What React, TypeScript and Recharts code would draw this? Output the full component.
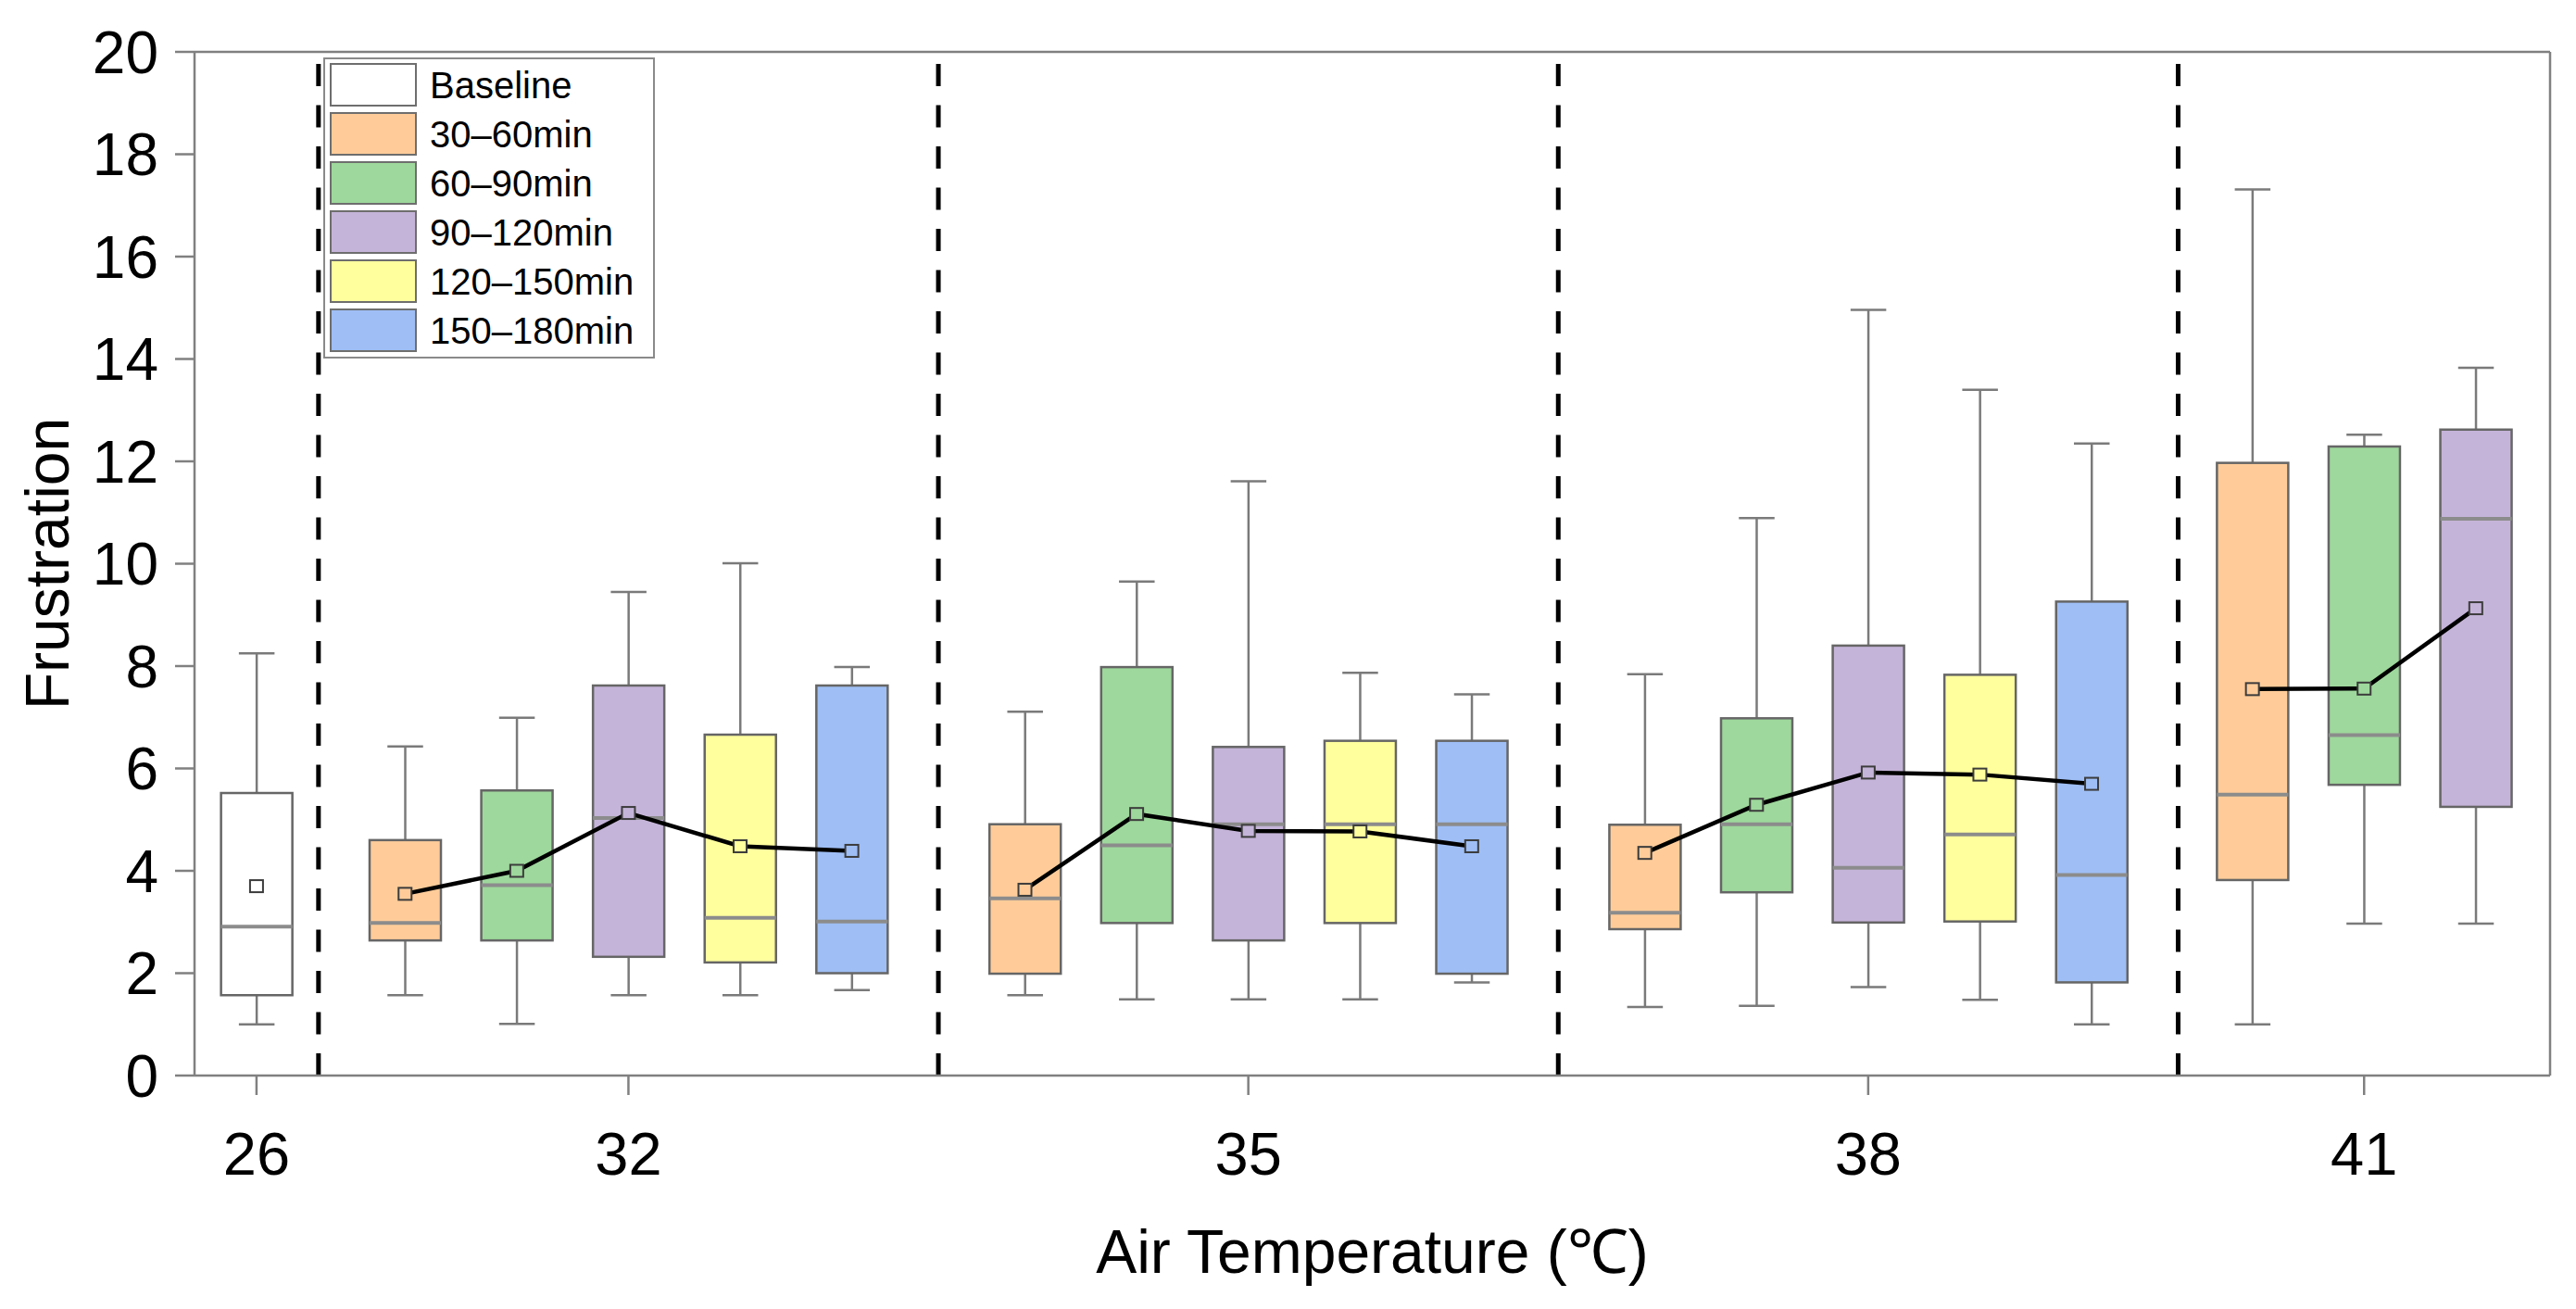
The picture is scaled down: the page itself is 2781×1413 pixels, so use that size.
import React from "react";
import {
  ComposedChart,
  Bar,
  Scatter,
  XAxis,
  YAxis,
  ReferenceLine,
  Legend,
  Label,
} from "recharts";

const temperatures = ["26", "32", "35", "38", "41"];
const seriesNames = ["Baseline", "30–60min", "60–90min", "90–120min", "120–150min", "150–180min"];
const yTicks = [0, 2, 4, 6, 8, 10, 12, 14, 16, 18, 20];

// [lower whisker, Q1, median, Q3, upper whisker, mean] per temperature; null = not measured
const baseline = [[1.0, 1.57, 2.91, 5.52, 8.25, 3.7], null, null, null, null];
const min30to60 = [
  null,
  [1.57, 2.64, 2.98, 4.6, 6.43, 3.55],
  [1.57, 1.99, 3.46, 4.91, 7.11, 3.63],
  [1.34, 2.86, 3.18, 4.9, 7.84, 4.35],
  [1.0, 3.82, 5.49, 11.97, 17.31, 7.55],
];
const min60to90 = [
  null,
  [1.01, 2.64, 3.72, 5.57, 6.99, 4.0],
  [1.49, 2.98, 4.5, 7.98, 9.65, 5.11],
  [1.36, 3.58, 4.91, 6.98, 10.89, 5.29],
  [2.97, 5.68, 6.65, 12.29, 12.52, 7.56],
];
const min90to120 = [
  null,
  [1.57, 2.32, 5.03, 7.62, 9.45, 5.13],
  [1.49, 2.64, 4.91, 6.42, 11.61, 4.78],
  [1.73, 2.99, 4.06, 8.4, 14.96, 5.92],
  [2.97, 5.25, 10.88, 12.62, 13.83, 9.13],
];
const min120to150 = [
  null,
  [1.57, 2.21, 3.08, 6.66, 10.01, 4.48],
  [1.49, 2.98, 4.91, 6.54, 7.87, 4.77],
  [1.48, 3.01, 4.71, 7.83, 13.4, 5.88],
  null,
];
const min150to180 = [
  null,
  [1.67, 2.0, 3.01, 7.62, 7.98, 4.39],
  [1.82, 1.99, 4.91, 6.54, 7.45, 4.48],
  [1.0, 1.82, 3.92, 9.26, 12.35, 5.7],
  null,
];

const allSeries = [baseline, min30to60, min60to90, min90to120, min120to150, min150to180];
const fills = ["#FFFFFF", "#FFCC99", "#9ED89C", "#C5B4D9", "#FFFF9E", "#9EBEF5"];

const FONT = '"Liberation Sans", Arial, sans-serif';
const AXIS_GREY = "#808080";

// each box takes one unit on the x axis; groups get a little extra padding on both sides
const padOf = (n: number) => 0.5 + 0.055 * n;

let cursor = 0;
const groups = temperatures.map((label, ti) => {
  const members = allSeries
    .map((s, si) => ({ si, stats: s[ti] }))
    .filter((m) => m.stats);
  const pad = padOf(members.length);
  const width = members.length - 1 + 2 * pad;
  const start = cursor;
  cursor += width;
  return {
    label,
    start,
    center: start + width / 2,
    boxes: members.map((m, k) => {
      const [low, q1, med, q3, high, mean] = m.stats as number[];
      return { x: start + pad + k, low, q1, med, q3, high, mean, fill: fills[m.si] };
    }),
  };
});
const xMax = cursor;
const boxes = groups.flatMap((g) => g.boxes);

function BoxShape(props: any) {
  const { x, y, width, height } = props;
  const d = props.payload ?? props;
  const top = Math.min(y, y + height);
  const h = Math.abs(height);
  const k = h / (d.q3 - d.q1);
  const py = (v: number) => top + (d.q3 - v) * k;
  const cx = x + width / 2;
  const cap = width / 4;
  const line = { stroke: "#7a7a7a", strokeWidth: 2.5 };
  return (
    <g>
      <line x1={cx} x2={cx} y1={py(d.high)} y2={top} {...line} />
      <line x1={cx} x2={cx} y1={top + h} y2={py(d.low)} {...line} />
      <line x1={cx - cap} x2={cx + cap} y1={py(d.high)} y2={py(d.high)} {...line} />
      <line x1={cx - cap} x2={cx + cap} y1={py(d.low)} y2={py(d.low)} {...line} />
      <rect x={x} y={top} width={width} height={h} fill={d.fill} stroke="#666666" strokeWidth={2.5} />
      <line x1={x} x2={x + width} y1={py(d.med)} y2={py(d.med)} stroke="#8c8c8c" strokeWidth={4} />
    </g>
  );
}

function MeanMarker(props: any) {
  const { cx, cy, payload } = props;
  return (
    <rect x={cx - 7} y={cy - 6.5} width={14} height={13} fill={payload.fill} stroke="#3c3c3c" strokeWidth={2} />
  );
}

function LegendBox() {
  return (
    <div
      style={{
        position: "relative",
        width: 358,
        height: 325,
        boxSizing: "border-box",
        border: "2px solid #8a8a8a",
        background: "#fff",
        fontFamily: FONT,
      }}
    >
      {seriesNames.map((name, i) => (
        <div key={name} style={{ position: "absolute", left: 5, top: 4 + i * 53, height: 47, display: "flex", alignItems: "center" }}>
          <div style={{ width: 94, height: 47, boxSizing: "border-box", border: "2px solid #6e6e6e", background: fills[i] }} />
          <span style={{ marginLeft: 14, fontSize: 40, color: "#000", lineHeight: 1 }}>{name}</span>
        </div>
      ))}
    </div>
  );
}

export default function App() {
  return (
    <div style={{ position: "absolute", left: 0, top: 0, width: 2781, height: 1413, background: "#fff" }}>
      <ComposedChart width={2781} height={1413} data={boxes} margin={{ top: 56, right: 28, bottom: 0, left: 0 }}>
        <XAxis
          dataKey="x"
          type="number"
          domain={[0, xMax]}
          ticks={groups.map((g) => g.center)}
          tickFormatter={(_v: number, i: number) => temperatures[i]}
          interval={0}
          height={252}
          tickSize={21}
          tickMargin={40}
          tick={{ fill: "#000", fontSize: 65, fontFamily: FONT }}
          axisLine={{ stroke: AXIS_GREY, strokeWidth: 2.5 }}
          tickLine={{ stroke: AXIS_GREY, strokeWidth: 2.5 }}
        >
          <Label
            content={(p: any) => (
              <text
                x={p.viewBox.x + p.viewBox.width / 2}
                y={p.viewBox.y + p.viewBox.height - 39}
                textAnchor="middle"
                fontSize={66}
                fontFamily={FONT}
                fill="#000"
              >
                Air Temperature (℃)
              </text>
            )}
          />
        </XAxis>
        <YAxis
          type="number"
          domain={[0, 20]}
          ticks={yTicks}
          interval={0}
          width={210}
          tickSize={21}
          tickMargin={18}
          tick={{ fill: "#000", fontSize: 64, fontFamily: FONT }}
          axisLine={{ stroke: AXIS_GREY, strokeWidth: 2.5 }}
          tickLine={{ stroke: AXIS_GREY, strokeWidth: 2.5 }}
        >
          <Label
            content={(p: any) => {
              const lx = p.viewBox.x + 74;
              const ly = p.viewBox.y + p.viewBox.height / 2;
              return (
                <text
                  x={lx}
                  y={ly}
                  transform={`rotate(-90, ${lx}, ${ly})`}
                  textAnchor="middle"
                  fontSize={66}
                  fontFamily={FONT}
                  fill="#000"
                >
                  Frustration
                </text>
              );
            }}
          />
        </YAxis>
        <ReferenceLine y={20} stroke={AXIS_GREY} strokeWidth={2.5} />
        <ReferenceLine x={xMax} stroke={AXIS_GREY} strokeWidth={2.5} />
        {groups.slice(1).map((g) => (
          <ReferenceLine key={g.label} x={g.start} stroke="#000" strokeWidth={5} strokeDasharray="24 20.5" />
        ))}
        <Bar
          dataKey={(d: any) => [d.q1, d.q3]}
          barSize={77}
          shape={<BoxShape />}
          isAnimationActive={false}
        />
        {groups.map((g) => (
          <Scatter
            key={g.label}
            data={g.boxes}
            dataKey="mean"
            fill="#000"
            line={g.boxes.length > 1 ? { stroke: "#000", strokeWidth: 4.5 } : false}
            shape={<MeanMarker />}
            isAnimationActive={false}
          />
        ))}
        <Legend
          layout="vertical"
          align="center"
          verticalAlign="middle"
          wrapperStyle={{ left: 349, top: 62, width: 358, height: 325 }}
          content={() => <LegendBox />}
        />
      </ComposedChart>
    </div>
  );
}
